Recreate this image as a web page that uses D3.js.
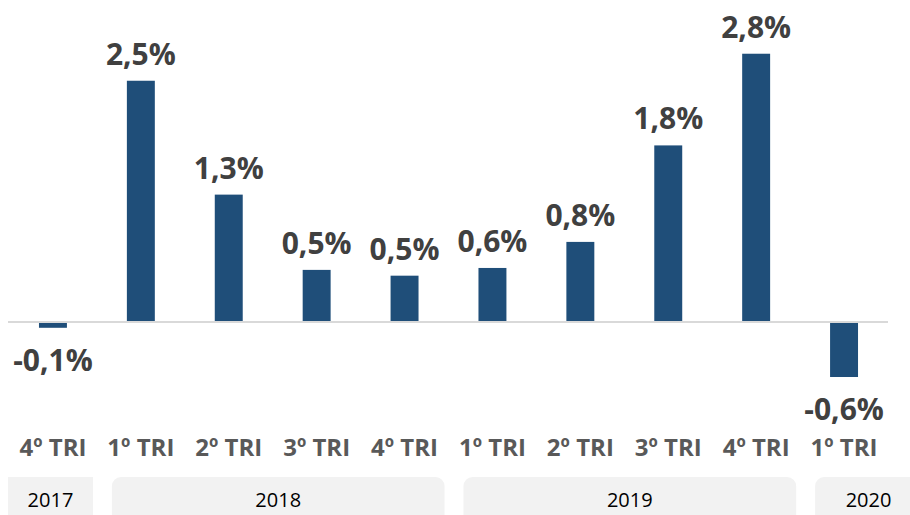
<!DOCTYPE html>
<html>
<head>
<meta charset="utf-8">
<script src="https://cdn.jsdelivr.net/npm/d3@7"></script>
<style>
  body { margin: 0; background: #fff; }
  svg { display: block; }
</style>
</head>
<body>
<div id="chart"></div>
<script>
// quarters and GDP change (%)
var quarters = ["4º TRI", "1º TRI", "2º TRI", "3º TRI", "4º TRI", "1º TRI", "2º TRI", "3º TRI", "4º TRI", "1º TRI"];
var values = [-0.06, 2.5, 1.32, 0.54, 0.48, 0.56, 0.83, 1.83, 2.78, -0.57];
var years = ["2017", "2018", "2019", "2020"];
var yearFirst = [0, 1, 5, 9];
var yearLast = [0, 4, 8, 9];

var width = 910, height = 515;

var svg = d3.select("#chart")
            .append("svg")
            .attr("width", width)
            .attr("height", height);

var ids = d3.range(quarters.length);

var x = d3.scaleBand()
          .domain(ids)
          .range([9, 888])
          .paddingInner(0.682)
          .paddingOuter(0.341);

var y = d3.scaleLinear()
          .domain([-1, 3])
          .range([418.5, 32.5]);

var fmt = function(v) { return d3.format(".1f")(v).replace(".", ",").replace("−", "-") + "%"; };

// bars
svg.append("g")
   .selectAll("rect")
   .data(ids)
   .enter().append("rect")
   .attr("x", function(i) { return x(i); })
   .attr("y", function(i) { return values[i] > 0 ? y(values[i]) : y(0); })
   .attr("width", x.bandwidth())
   .attr("height", function(i) { return Math.abs(y(values[i]) - y(0)); })
   .style("fill", "#1f4e79");

// zero line
svg.append("line")
   .attr("x1", 8)
   .attr("x2", 888)
   .attr("y1", y(0))
   .attr("y2", y(0))
   .style("stroke", "#d9d9d9")
   .style("stroke-width", 2);

// value labels
svg.append("g")
   .selectAll("text")
   .data(ids)
   .enter().append("text")
   .attr("x", function(i) { return x(i) + x.bandwidth() / 2; })
   .attr("y", function(i) { return values[i] >= 0 ? y(values[i]) - 16 : y(values[i]) + 43; })
   .attr("text-anchor", "middle")
   .style("font-family", "'Open Sans', sans-serif")
   .style("font-weight", "bold")
   .style("font-size", "30px")
   .style("fill", "#404040")
   .text(function(i) { return fmt(values[i]); });

// quarter labels
svg.append("g")
   .selectAll("text")
   .data(ids)
   .enter().append("text")
   .attr("x", function(i) { return x(i) + x.bandwidth() / 2; })
   .attr("y", 456)
   .attr("text-anchor", "middle")
   .style("font-family", "'Open Sans', sans-serif")
   .style("font-weight", "bold")
   .style("font-size", "24px")
   .style("fill", "#595959")
   .text(function(i) { return quarters[i]; });

// year boxes
var half = x.step() / 2;
function boxLeft(k) {
  return k == 0 ? 8 : x(yearFirst[k]) + x.bandwidth() / 2 - half + 15;
}
function boxRight(k) {
  return k == years.length - 1 ? width + 12 : x(yearLast[k]) + x.bandwidth() / 2 + 40;
}

var yearG = svg.append("g")
               .selectAll("g")
               .data(d3.range(years.length))
               .enter().append("g");

yearG.append("rect")
     .attr("x", function(k) { return boxLeft(k); })
     .attr("y", 477)
     .attr("width", function(k) { return boxRight(k) - boxLeft(k); })
     .attr("height", 50)
     .attr("rx", function(k) { return k == 0 ? 0 : 9; })
     .style("fill", "#f2f2f2");

yearG.append("text")
     .attr("x", function(k) { return (boxLeft(k) + boxRight(k)) / 2; })
     .attr("y", 507)
     .attr("text-anchor", "middle")
     .style("font-family", "'Open Sans', sans-serif")
     .style("font-size", "20px")
     .style("fill", "#000")
     .text(function(k) { return years[k]; });
</script>
</body>
</html>
